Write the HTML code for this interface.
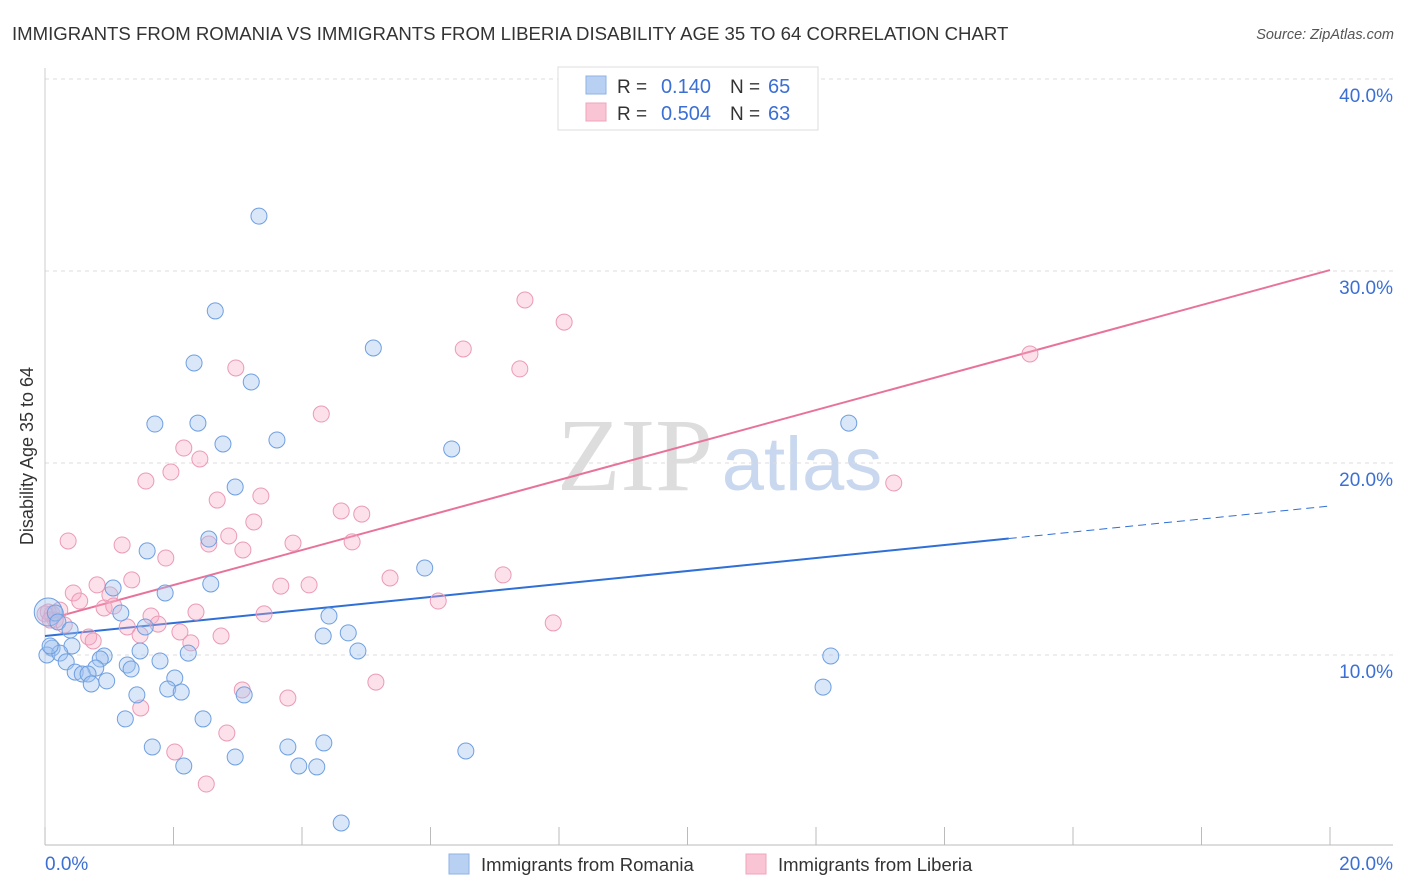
<!DOCTYPE html>
<html><head><meta charset="utf-8"><style>
body{margin:0;background:#fff;font-family:"Liberation Sans",sans-serif}
svg{display:block}
</style></head><body>
<svg id="chart" width="1406" height="892" xmlns="http://www.w3.org/2000/svg">
<text x="12" y="40" font-size="18.6" fill="#333">IMMIGRANTS FROM ROMANIA VS IMMIGRANTS FROM LIBERIA DISABILITY AGE 35 TO 64 CORRELATION CHART</text>
<text x="1394" y="39" font-size="14.5" fill="#555" font-style="italic" text-anchor="end">Source: ZipAtlas.com</text>
<g>
<text x="635" y="490" font-size="104" fill="#ddd" font-family="Liberation Serif,serif" text-anchor="middle">ZIP</text>
<text x="802" y="490" font-size="76" fill="#c9d8ef" text-anchor="middle">atlas</text>
</g>
<g id="grid"></g>
<g id="axes"></g>
<g id="lines"></g>
<g id="pts"></g>
<text transform="translate(33,456) rotate(-90)" font-size="18" fill="#333" text-anchor="middle">Disability Age 35 to 64</text>
<g>
<rect x="558" y="67" width="260" height="63" fill="#fff" stroke="#ddd"/>
<rect x="586" y="76" width="20" height="18" fill="#b8d1f3" stroke="#8fb2e6"/>
<rect x="586" y="103" width="20" height="18" fill="#f9c5d5" stroke="#eea5bd"/>
<text x="617" y="93" font-size="19" fill="#333">R =</text>
<text x="711" y="93" font-size="20" fill="#3b6fd4" text-anchor="end">0.140</text>
<text x="730" y="93" font-size="19" fill="#333">N =</text>
<text x="768" y="93" font-size="20" fill="#3b6fd4">65</text>
<text x="617" y="120" font-size="19" fill="#333">R =</text>
<text x="711" y="120" font-size="20" fill="#3b6fd4" text-anchor="end">0.504</text>
<text x="730" y="120" font-size="19" fill="#333">N =</text>
<text x="768" y="120" font-size="20" fill="#3b6fd4">63</text>
</g>
<g>
<rect x="449" y="854" width="20" height="20" fill="#b8d1f3" stroke="#8fb2e6"/>
<text x="481" y="871" font-size="18.5" fill="#333">Immigrants from Romania</text>
<rect x="746" y="854" width="20" height="20" fill="#f9c5d5" stroke="#eea5bd"/>
<text x="778" y="871" font-size="18.5" fill="#333">Immigrants from Liberia</text>
</g>
</svg>
<script>
const yTicks=[10,20,30,40];
const yTickLabels=["10.0%","20.0%","30.0%","40.0%"];
const xTickLabels=["0.0%","20.0%"];
const blueX=[3.33,2.65,2.32,3.21,5.11,1.71,2.38,2.77,3.61,6.33,12.51,2.96,2.55,1.59,5.91,2.58,1.06,1.87,1.18,1.56,4.42,4.33,4.72,4.87,2.23,1.79,1.48,0.92,0.86,1.28,1.34,0.79,0.42,0.11,0.03,0.23,0.33,0.47,0.58,0.67,0.72,0.96,2.02,1.91,2.12,1.43,3.10,1.25,2.46,1.67,2.96,2.16,3.78,4.34,3.95,4.23,6.55,4.61,12.23,12.11,0.05,0.16,0.2,0.39,0.08];
const blueY=[32.86,27.92,25.21,24.22,25.99,22.03,22.08,20.99,21.20,20.73,22.08,18.75,16.04,15.42,14.53,13.70,13.49,13.23,12.19,11.46,12.03,10.99,11.15,10.21,10.10,9.69,10.21,9.95,9.79,9.48,9.27,9.32,10.47,10.36,10.0,10.10,9.64,9.11,9.01,9.01,8.49,8.65,8.80,8.23,8.07,7.92,7.92,6.67,6.67,5.21,4.69,4.22,5.21,5.42,4.22,4.17,5.0,1.25,9.95,8.33,12.24,12.19,11.72,11.30,10.47];
const pinkX=[7.47,8.08,6.51,2.97,7.39,15.33,4.30,2.16,2.41,1.96,1.57,13.21,2.68,3.36,4.61,4.93,3.25,2.86,0.36,1.20,2.55,3.08,1.88,3.86,4.78,5.37,7.13,1.35,0.81,0.44,0.54,1.01,4.11,3.67,0.92,1.07,1.65,1.76,2.35,3.41,6.12,7.91,1.28,1.48,2.10,0.68,0.75,2.27,2.74,0.05,0.11,0.16,0.30,5.15,3.07,3.78,1.49,2.83,2.02,2.51,0.23,0.0,0.08];
const pinkY=[28.49,27.34,25.94,24.95,24.90,25.68,22.55,20.78,20.21,19.53,19.06,18.96,18.07,18.28,17.5,17.34,16.93,16.20,15.94,15.73,15.78,15.47,15.05,15.83,15.89,14.01,14.17,13.91,13.65,13.23,12.81,13.13,13.65,13.59,12.45,12.55,12.03,11.61,12.24,12.14,12.81,11.67,11.46,11.04,11.20,10.94,10.73,10.63,10.99,12.24,12.14,11.82,11.56,8.59,8.18,7.76,7.24,5.94,4.95,3.28,12.34,12.14,11.82];
const blueTrend=[10.99,17.76];
const pinkTrend=[11.82,30.05];
const blueSolidEnd=15.0;
const NS="http://www.w3.org/2000/svg";
const X=v=>45+v*64.25, Y=v=>847-v*19.2;
function mk(tag,at,parent){const e=document.createElementNS(NS,tag);for(const k in at)e.setAttribute(k,at[k]);parent.appendChild(e);return e;}
const grid=document.getElementById('grid'),axes=document.getElementById('axes'),lines=document.getElementById('lines'),pts=document.getElementById('pts');
yTicks.forEach((t,i)=>{
 const l=mk('line',{x1:45,x2:1393,y1:Y(t),y2:Y(t),stroke:'#ddd','stroke-dasharray':'4,4'},grid);
 
 
 const tx=mk('text',{x:1393,y:Y(t)+23,'font-size':19,fill:'#3b6fd4','text-anchor':'end'},axes);tx.textContent=yTickLabels[i];
 
 
});
mk('line',{x1:45,x2:1393,y1:845,y2:845,stroke:'#bbb'},axes);
mk('line',{x1:45,x2:45,y1:68,y2:845,stroke:'#ccc'},axes);
for(let i=0;i<=10;i++){mk('line',{x1:X(i*2),x2:X(i*2),y1:827,y2:845,stroke:'#bbb'},axes);}
[[0,'start',45],[20,'end',1393]].forEach((a,i)=>{const t=mk('text',{x:a[2],y:870,'font-size':19,fill:'#3b6fd4','text-anchor':a[1]},axes);t.textContent=xTickLabels[i];
 
 });
function val(tr,x){return tr[0]+(tr[1]-tr[0])*x/20;}
const bl=mk('line',{x1:X(0),y1:Y(val(blueTrend,0)),x2:X(blueSolidEnd),y2:Y(val(blueTrend,blueSolidEnd)),stroke:'#2f6fd6','stroke-width':2},lines);


const bd=mk('line',{x1:X(blueSolidEnd),y1:Y(val(blueTrend,blueSolidEnd)),x2:X(20),y2:Y(val(blueTrend,20)),stroke:'#2f6fd6','stroke-width':1,'stroke-dasharray':'8,5'},lines);


const pl=mk('line',{x1:X(0),y1:Y(val(pinkTrend,0)),x2:X(20),y2:Y(val(pinkTrend,20)),stroke:'#e8739a','stroke-width':2},lines);


function dots(xs,ys,fill,stroke,name){xs.forEach((x,i)=>{const c=mk('circle',{cx:X(x),cy:Y(ys[i]),r:(i===xs.length-5&&name==='romania-point')?14:8,fill:fill,stroke:stroke,'stroke-width':1},pts);
 
 });}
dots(pinkX,pinkY,'rgba(246,170,195,0.35)','#eb9ab6','liberia-point');
dots(blueX,blueY,'rgba(160,195,240,0.4)','#6f9fe0','romania-point');
</script>
</body></html>
